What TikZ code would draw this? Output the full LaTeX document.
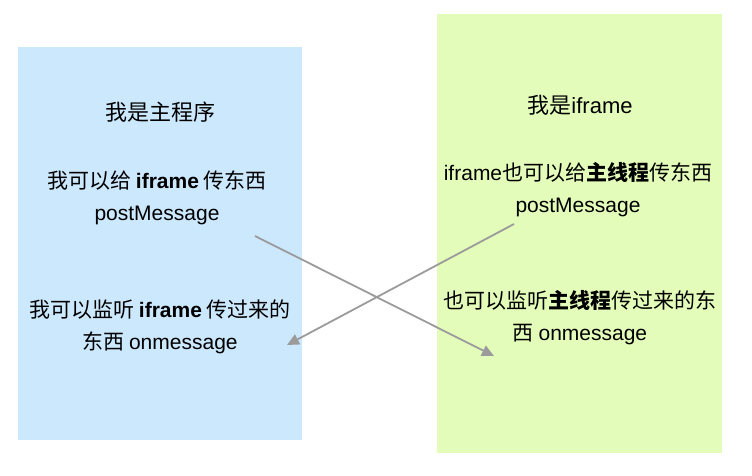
\documentclass[tikz,border=0pt]{standalone}
\usepackage{fontspec}
\setmainfont{Noto Sans CJK SC}
\newfontfamily\latin{Liberation Sans}
\newcommand{\en}[1]{{\latin #1}}
\usepackage{tikz}
\usetikzlibrary{positioning}
\usetikzlibrary{arrows.meta}
\definecolor{mainblue}{HTML}{CCE8FD}
\definecolor{framegreen}{HTML}{E4FCBA}
\definecolor{arrowgray}{HTML}{9B9B9B}
\tikzset{
    panel/.style={draw=none, inner sep=0pt, anchor=north west},
    msgtext/.style={align=center, inner sep=0pt, font=\fontsize{21}{32}\selectfont},
    titletext/.style={inner sep=0pt, font=\fontsize{22}{24}\selectfont},
    pass/.style={draw=arrowgray, line width=1.8pt, -{Triangle[length=12pt,width=11pt]}},
}

\begin{document}
\begin{tikzpicture}[x=1pt, y=-1pt]
	\useasboundingbox (0,0) rectangle (752,476);
	% main thread
	\node[panel, fill=mainblue, minimum width=284pt, minimum height=393pt] (main) at (18,47) {};
	\node[titletext] (maintitle) at (160,112) {我是主程序};
	\node[msgtext] (mainsend) at (157,198) {我可以给 \en{\textbf{iframe}} 传东西\\\en{postMessage}};
	\node[msgtext] (mainlisten) at (160,327) {我可以监听 \en{\textbf{iframe}} 传过来的\\东西 \en{onmessage}};
%
	% iframe
	\node[panel, fill=framegreen, minimum width=285pt, minimum height=439pt] (frame) at (437,14) {};
	\node[titletext] (frametitle) at (580,105) {我是\en{iframe}};
	\node[msgtext] (framesend) at (578,190) {\en{iframe}也可以给\textbf{主线程}传东西\\\en{postMessage}};
	\node[msgtext] (framelisten) at (580,318) {也可以监听\textbf{主线程}传过来的东\\西 \en{onmessage}};
%
	\coordinate (mainout) at (255,236);
	\coordinate (framein) at (494,356);
	\coordinate (frameout) at (514,224);
	\coordinate (mainin) at (287,345);
	\draw[pass] (mainout) -- (framein);
	\draw[pass] (frameout) -- (mainin);
\end{tikzpicture}
\end{document}
